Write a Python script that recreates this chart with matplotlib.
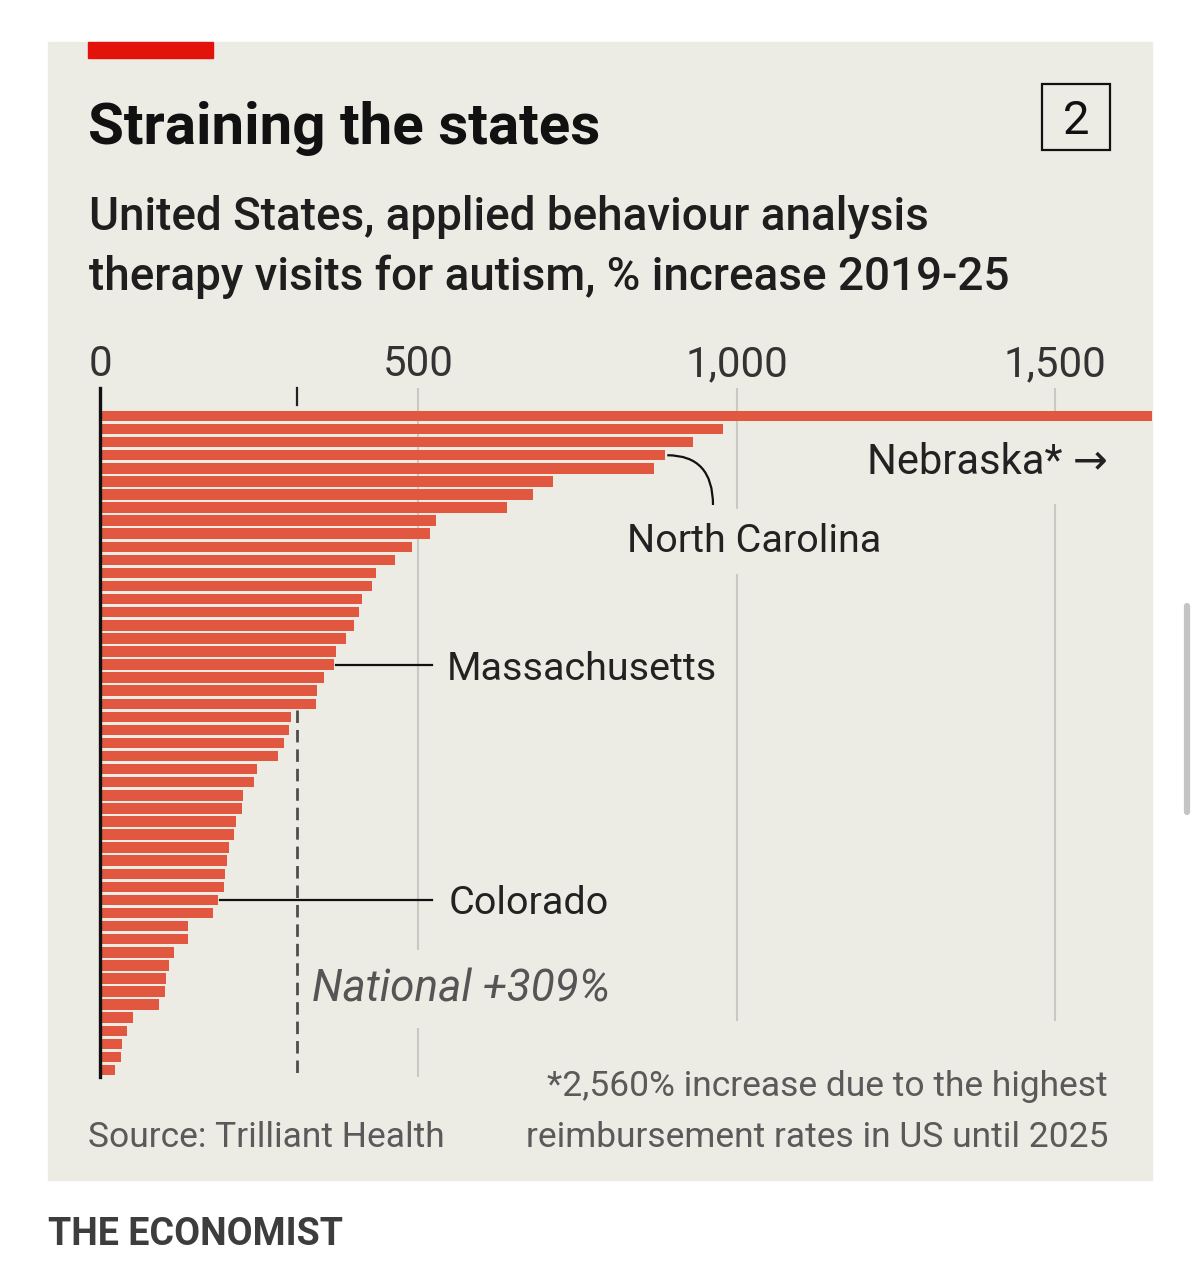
import numpy as np
import matplotlib.pyplot as plt
from matplotlib.patches import Rectangle, PathPatch
from matplotlib.path import Path

# % increase in ABA therapy visits 2019-25, states sorted high to low
values = [2560, 979, 931, 888, 870, 711, 680, 639, 528, 518, 490, 463, 434, 427,
          411, 407, 399, 386, 370, 368, 352, 341, 339, 300, 297, 289, 280, 246,
          242, 225, 223, 213, 210, 203, 199, 196, 195, 185, 177, 139, 139, 117,
          108, 103, 102, 93, 52, 42, 35, 33, 24]
national = 309
xticks = [0, 500, 1000, 1500]
labelled = {'Nebraska*': 0, 'North Carolina': 3, 'Massachusetts': 19, 'Colorado': 37}

W, H = 1200, 1277
bg = '#ecebe4'
red = '#e1573f'
font = ['Roboto', 'DejaVu Sans']

fig = plt.figure(figsize=(W / 100, H / 100), dpi=100)
fig.patch.set_facecolor('white')
renderer = fig.canvas.get_renderer()

def fx(x):
    return x / W

def fy(y):
    return 1 - y / H

def ftext(x, y, s, where=fig, **kw):
    kw.setdefault('family', font)
    return where.text(fx(x), fy(y), s, transform=fig.transFigure, clip_on=False, **kw)

def fit(t, width):
    # scale font size so the text spans the same width as in the original
    w = t.get_window_extent(renderer).width
    t.set_fontsize(t.get_fontsize() * width / w)
    return t.get_fontsize()

# panel, red stripe, number box
fig.patches.append(Rectangle((fx(48), fy(1180)), fx(1104), 1138 / H,
                             transform=fig.transFigure, color=bg, zorder=-2))
fig.patches.append(Rectangle((fx(88), fy(58)), fx(125), 16 / H,
                             transform=fig.transFigure, color='#e3120b', zorder=1))
fig.patches.append(Rectangle((fx(1042), fy(150)), fx(68), 66 / H, fill=False,
                             transform=fig.transFigure, ec='#111111', lw=1.6, zorder=1))
ftext(1076, 134, '2', fontsize=34, ha='center', va='baseline', color='#111111')

t = ftext(88, 144, 'Straining the states', fontsize=40, fontweight='bold',
          va='baseline', color='#111111')
fit(t, 512)
t = ftext(89, 230, 'United States, applied behaviour analysis', fontsize=35,
          fontweight='medium', va='baseline', color='#1e1e1e')
sub = fit(t, 841)
ftext(89, 290, 'therapy visits for autism, % increase 2019-25', fontsize=sub,
      fontweight='medium', va='baseline', color='#1e1e1e')

# chart area
ax = fig.add_axes([fx(100), fy(1077), fx(1052), 689 / H], zorder=1)
ax.patch.set_visible(False)
unit = (1055 - 100) / 1500
ax.set_xlim(0, 1052 / unit)
pitch = (1070 - 416) / 50
ax.set_ylim(50 + (1077 - 1070) / pitch, -(416 - 388) / pitch)
y = np.arange(len(values))

for tk in xticks[1:]:
    lo = 0 if tk == 500 else (1077 - 1020) / 689
    ax.axvline(tk, ymin=lo, ymax=1, color='#c9c9c4', lw=1.5, zorder=1)

ax.barh(y, values, height=0.8, color=red, zorder=3)

# national average
first_below = next(i for i, v in enumerate(values) if v < national)
ax.plot([national, national], [first_below - 0.5, ax.get_ylim()[0]],
        color='#4d4d4d', lw=2.0, ls=(0, (4.5, 2.5)), zorder=2.5)
ax.plot([national, national], [ax.get_ylim()[1], -(416 - 405) / pitch],
        color='#222222', lw=1.6, zorder=4, clip_on=False)

for s in ['top', 'right', 'bottom']:
    ax.spines[s].set_visible(False)
ax.spines['left'].set_linewidth(2.4)
ax.spines['left'].set_color('#111111')
ax.spines['left'].set_zorder(5)

t = ftext(0, 0, '1,000', fontsize=33)
tick_size = fit(t, 103)
t.remove()
ax.xaxis.tick_top()
ax.set_xticks(xticks)
ax.set_xticklabels([f'{tk:,}' for tk in xticks], family=font, fontsize=tick_size,
                   color='#333333')
ax.tick_params(axis='x', length=0, pad=2)
ax.set_yticks([])

# leader lines
lab_x = (432 - 100) / unit
for name in ['Massachusetts', 'Colorado']:
    i = labelled[name]
    ax.plot([values[i] + 3, lab_x], [i, i], color='#111111', lw=1.6, zorder=4)

i = labelled['North Carolina']
x0 = values[i] + 3
x1 = (713 - 100) / unit
y1 = (505 - 416) / pitch
curve = Path([(x0, i), (x1, i), (x1, y1)], [Path.MOVETO, Path.CURVE3, Path.CURVE3])
ax.add_patch(PathPatch(curve, fc='none', ec='#111111', lw=1.6, zorder=4))

# labels live in the chart axes so their masks sit under bars and the dashed line
t = ftext(447, 680, 'Massachusetts', ax, fontsize=32, va='baseline', color='#222222',
          zorder=4)
lab = fit(t, 271)
ftext(449, 914, 'Colorado', ax, fontsize=lab, va='baseline', color='#222222', zorder=4)
t = ftext(1108, 474, 'Nebraska* \u2192', ax, fontsize=lab, ha='right', va='baseline',
          color='#222222', bbox=dict(facecolor=bg, edgecolor='none',
                                     boxstyle='square,pad=0.5'), zorder=2)
fit(t, 241)
ftext(627, 552, 'North Carolina', ax, fontsize=lab, va='baseline', color='#222222',
      bbox=dict(facecolor=bg, edgecolor='none', boxstyle='square,pad=0.35'), zorder=2)
t = ftext(312, 1001, f'National +{national}%', ax, fontsize=lab, style='italic',
          va='baseline', color='#555555', bbox=dict(facecolor=bg, edgecolor='none',
                                                    boxstyle='square,pad=0.4'), zorder=2)
fit(t, 298)

# footnotes
t = ftext(1108, 1147, 'reimbursement rates in US until 2025', fontsize=29,
          ha='right', va='baseline', color='#5a5a5a')
foot = fit(t, 583)
ftext(1108, 1096, f'*{values[0]:,}% increase due to the highest', fontsize=foot,
      ha='right', va='baseline', color='#5a5a5a')
ftext(88, 1147, 'Source: Trilliant Health', fontsize=foot, va='baseline',
      color='#5a5a5a')
t = ftext(48, 1245, 'THE ECONOMIST', fontsize=30, fontweight='bold', va='baseline',
          color='#3d3d3d')
fit(t, 295)

# page scrollbar
fig.add_artist(plt.Line2D([fx(1187), fx(1187)], [fy(606), fy(812)], color='#c4c4c4',
                          lw=4.5, solid_capstyle='round', transform=fig.transFigure))

fig.savefig('out.png', dpi=100, facecolor='white')
